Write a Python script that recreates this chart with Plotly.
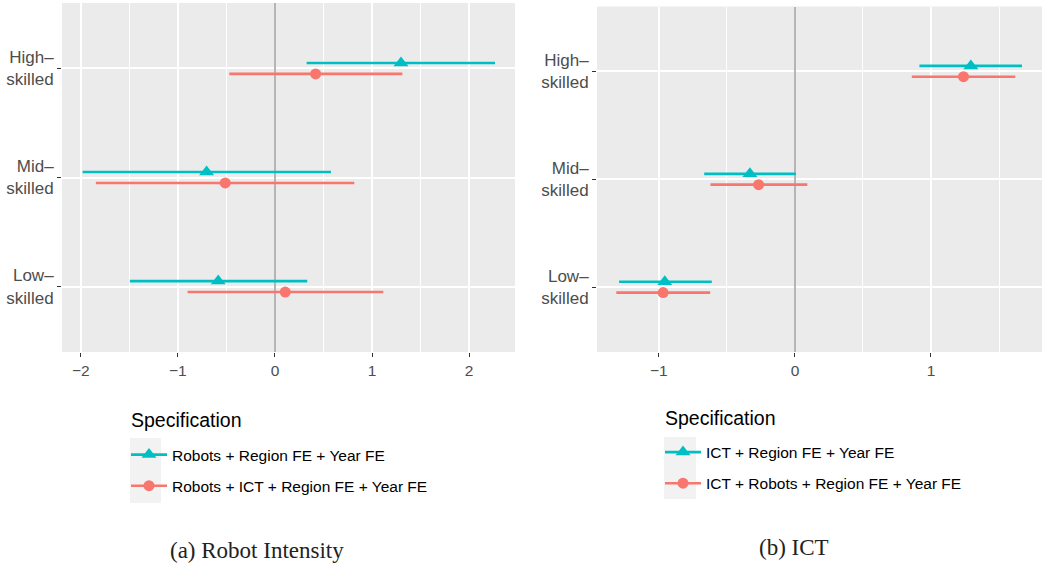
import plotly.graph_objects as go

W, H = 1046, 565

# ---------------- data ----------------
skill_levels = [1, 2, 3]
skill_labels = ["Low–<br>skilled", "Mid–<br>skilled", "High–<br>skilled"]

# Panel (a): Robot intensity
robot_spec1_name = "Robots + Region FE + Year FE"
robot_spec1_est = [-0.584, -0.704, 1.298]
robot_spec1_lo = [-1.494, -1.981, 0.326]
robot_spec1_hi = [0.333, 0.577, 2.266]

robot_spec2_name = "Robots + ICT + Region FE + Year FE"
robot_spec2_est = [0.106, -0.512, 0.419]
robot_spec2_lo = [-0.900, -1.844, -0.470]
robot_spec2_hi = [1.116, 0.817, 1.312]

# Panel (b): ICT
ict_spec1_name = "ICT + Region FE + Year FE"
ict_spec1_est = [-0.957, -0.331, 1.293]
ict_spec1_lo = [-1.293, -0.667, 0.915]
ict_spec1_hi = [-0.611, 0.007, 1.669]

ict_spec2_name = "ICT + Robots + Region FE + Year FE"
ict_spec2_est = [-0.969, -0.267, 1.239]
ict_spec2_lo = [-1.313, -0.621, 0.859]
ict_spec2_hi = [-0.623, 0.091, 1.620]

robot_ticks = [-2, -1, 0, 1, 2]
ict_ticks = [-1, 0, 1]

# ---------------- style ----------------
CYAN = "#00BFC4"
RED = "#F8766D"
BG = "#EBEBEB"
DODGE = 0.05


def px_x(p):
    return p / W


def px_y(p):
    return 1 - p / H


fig = go.Figure()


def add_series(est, lo, hi, name, color, symbol, offset, xa, ya, legend):
    ys = [s + offset for s in skill_levels]
    # horizontal confidence intervals
    fig.add_trace(go.Scatter(
        x=est, y=ys, mode="markers",
        marker=dict(size=0.1, color=color),
        error_x=dict(type="data", symmetric=False,
                     array=[h - e for h, e in zip(hi, est)],
                     arrayminus=[e - l for e, l in zip(est, lo)],
                     color=color, thickness=2.6, width=0),
        xaxis=xa, yaxis=ya, showlegend=False, hoverinfo="skip",
    ))
    # point estimates (gapped: no connecting lines, legend shows line+marker)
    xs, yy = [], []
    for e, y in zip(est, ys):
        xs += [e, None]
        yy += [y, None]
    fig.add_trace(go.Scatter(
        x=xs, y=yy, mode="lines+markers", connectgaps=False,
        line=dict(color=color, width=2.6),
        marker=dict(size=13 if symbol == "triangle-up" else 11, color=color,
                    symbol=symbol, line=dict(width=0)),
        name=name, xaxis=xa, yaxis=ya, legend=legend, legendgroup=name,
    ))


add_series(robot_spec1_est, robot_spec1_lo, robot_spec1_hi, robot_spec1_name,
           CYAN, "triangle-up", DODGE, "x", "y", "legend")
add_series(robot_spec2_est, robot_spec2_lo, robot_spec2_hi, robot_spec2_name,
           RED, "circle", -DODGE, "x", "y", "legend")
add_series(ict_spec1_est, ict_spec1_lo, ict_spec1_hi, ict_spec1_name,
           CYAN, "triangle-up", DODGE, "x2", "y2", "legend2")
add_series(ict_spec2_est, ict_spec2_lo, ict_spec2_hi, ict_spec2_name,
           RED, "circle", -DODGE, "x2", "y2", "legend2")

SANS = "Liberation Sans, Arial, sans-serif"
tickfont = dict(family=SANS, size=15.5, color="#4D4D4D")

xcommon = dict(
    showgrid=True, gridcolor="white", gridwidth=1.6,
    minor=dict(dtick=0.5, showgrid=True, gridcolor="white", gridwidth=0.7),
    zeroline=True, zerolinecolor="#B5B5B5", zerolinewidth=2,
    ticks="outside", ticklen=4, tickwidth=1.2, tickcolor="#333333",
    tickfont=tickfont, showline=False, fixedrange=True,
)
ycommon = dict(
    range=[0.4, 3.6], tickvals=skill_levels, ticktext=skill_labels,
    showgrid=True, gridcolor="white", gridwidth=1.6, zeroline=False,
    ticks="outside", ticklen=4, tickwidth=1.2, tickcolor="#333333",
    tickfont=dict(family=SANS, size=17, color="#4D4D4D"),
    showline=False, fixedrange=True,
)

legend_common = dict(
    xanchor="left", yanchor="top",
    bgcolor="rgba(0,0,0,0)", font=dict(family=SANS, size=15.5, color="black"),
    traceorder="grouped", tracegroupgap=8, itemwidth=36,
)

fig.update_layout(
    width=W, height=H,
    margin=dict(l=0, r=0, t=0, b=0),
    paper_bgcolor="white", plot_bgcolor=BG,
    font=dict(family=SANS, color="black"),
    xaxis=dict(domain=[px_x(62), px_x(515)], range=[-2.193, 2.472],
               tickvals=robot_ticks, anchor="y", **xcommon),
    yaxis=dict(domain=[px_y(352), px_y(3)], anchor="x", **ycommon),
    xaxis2=dict(domain=[px_x(597), px_x(1042)], range=[-1.455, 1.816],
                tickvals=ict_ticks, anchor="y2", **xcommon),
    yaxis2=dict(domain=[px_y(352), px_y(6.5)], anchor="x2", **ycommon),
    legend=dict(x=px_x(126), y=px_y(438), **legend_common),
    legend2=dict(x=px_x(660), y=px_y(435.5), **legend_common),
)

# grey legend key backgrounds
for (x0, x1, y0, y1) in [(130, 161, 438, 503), (664, 696, 437, 499)]:
    fig.add_shape(type="rect", xref="paper", yref="paper",
                  x0=px_x(x0), x1=px_x(x1), y0=px_y(y1), y1=px_y(y0),
                  fillcolor="#F2F2F2", line=dict(width=0), layer="below")

# legend titles
for cx, cy in [(129, 420), (663, 418)]:
    fig.add_annotation(text="Specification", xref="paper", yref="paper",
                       x=px_x(cx), y=px_y(cy), xanchor="left", yanchor="middle",
                       showarrow=False, font=dict(family=SANS, size=19.5, color="black"))

# sub-figure captions
for text, cx, cy in [("(a) Robot Intensity", 256.5, 550), ("(b) ICT", 793.5, 547)]:
    fig.add_annotation(text=text, xref="paper", yref="paper",
                       x=px_x(cx), y=px_y(cy), xanchor="center", yanchor="middle",
                       showarrow=False,
                       font=dict(family="Liberation Serif, Times New Roman, serif",
                                 size=23, color="#222222"))

fig.write_html("out.html", config={"displayModeBar": False},
               post_script="document.body.style.margin='0';document.body.style.overflow='hidden';")
